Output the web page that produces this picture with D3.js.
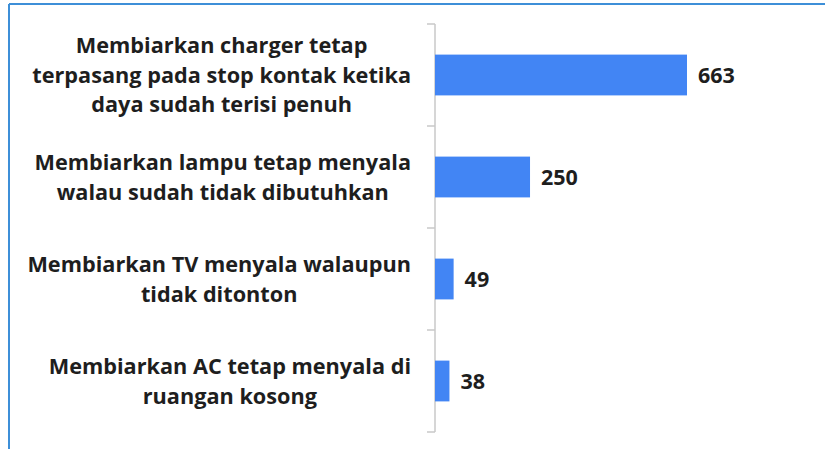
<!DOCTYPE html>
<html>
  <head>
    <meta charset="utf-8" />
    <title>Kebiasaan boros energi</title>
    <script src="https://d3js.org/d3.v7.min.js"></script>
    <style>
      body { margin: 0; background: #fff; }
    </style>
  </head>
  <body>
    <svg id="chart" width="825" height="449"></svg>
  </body>
  <script>
    // data
    var categories = [
      "Membiarkan charger tetap\nterpasang pada stop kontak ketika\ndaya sudah terisi penuh",
      "Membiarkan lampu tetap menyala\nwalau sudah tidak dibutuhkan",
      "Membiarkan TV menyala walaupun\ntidak ditonton",
      "Membiarkan AC tetap menyala di\nruangan kosong"
    ];
    var values = [663, 250, 49, 38];

    var svg = d3.select("#chart");

    // blue frame at top and left
    svg.append("line")
      .attr("x1", 9).attr("x2", 825).attr("y1", 4).attr("y2", 4)
      .attr("stroke", "#3d8fd8").attr("stroke-width", 2);
    svg.append("line")
      .attr("x1", 9).attr("x2", 9).attr("y1", 4).attr("y2", 449)
      .attr("stroke", "#3d8fd8").attr("stroke-width", 2);

    var x0 = 435;
    var x = d3.scaleLinear()
      .domain([0, 663])
      .range([x0, 687]);

    var y = d3.scaleBand()
      .domain(categories)
      .range([24, 432])
      .paddingInner(0.6)
      .paddingOuter(0.3);

    // category axis: grey line with ticks at the band edges
    var edges = categories.map(function(c){ return y(c) - y.step() * y.paddingInner() / 2; });
    edges.push(432);
    edges[0] = 24;
    svg.append("line")
      .attr("x1", x0).attr("x2", x0).attr("y1", 24).attr("y2", 432)
      .attr("stroke", "#c8c8c8").attr("stroke-width", 1.5);
    svg.selectAll(".tick")
      .data(edges)
      .enter().append("line")
      .attr("class", "tick")
      .attr("x1", x0 - 8).attr("x2", x0)
      .attr("y1", function(d){ return d; })
      .attr("y2", function(d){ return d; })
      .attr("stroke", "#c8c8c8").attr("stroke-width", 1.5);

    // bars
    svg.selectAll(".bar")
      .data(values)
      .enter().append("rect")
      .attr("class", "bar")
      .attr("x", x0)
      .attr("y", function(d, i){ return y(categories[i]); })
      .attr("width", function(d){ return x(d) - x0; })
      .attr("height", y.bandwidth())
      .attr("fill", "#4285f4");

    // value labels
    svg.selectAll(".val")
      .data(values)
      .enter().append("text")
      .attr("class", "val")
      .attr("x", function(d){ return x(d) + 11; })
      .attr("y", function(d, i){ return y(categories[i]) + y.bandwidth() / 2; })
      .attr("dy", "0.36em")
      .attr("font-family", "'Open Sans', sans-serif")
      .attr("font-weight", "bold")
      .attr("font-size", 21.5)
      .attr("fill", "#1e1e1e")
      .text(function(d){ return d; });

    // category labels: each block sits against x=411, lines centred inside it
    var lineH = 29.5;
    var labelRight = 411;
    var labels = svg.selectAll(".cat")
      .data(categories)
      .enter().append("text")
      .attr("class", "cat")
      .attr("text-anchor", "middle")
      .attr("font-family", "'Open Sans', sans-serif")
      .attr("font-weight", "bold")
      .attr("font-size", 21.7)
      .attr("fill", "#1e1e1e");
    labels.each(function(d){
      var lines = d.split("\n");
      var cy = y(d) + y.bandwidth() / 2;
      var top = cy - (lines.length - 1) * lineH / 2;
      var spans = d3.select(this).selectAll("tspan")
        .data(lines)
        .enter().append("tspan")
        .attr("y", function(l, i){ return top + i * lineH; })
        .attr("dy", "0.36em")
        .text(function(l){ return l; });
      var maxW = 0;
      spans.each(function(){ maxW = Math.max(maxW, this.getComputedTextLength()); });
      spans.attr("x", labelRight - maxW / 2);
    });
  </script>
</html>
